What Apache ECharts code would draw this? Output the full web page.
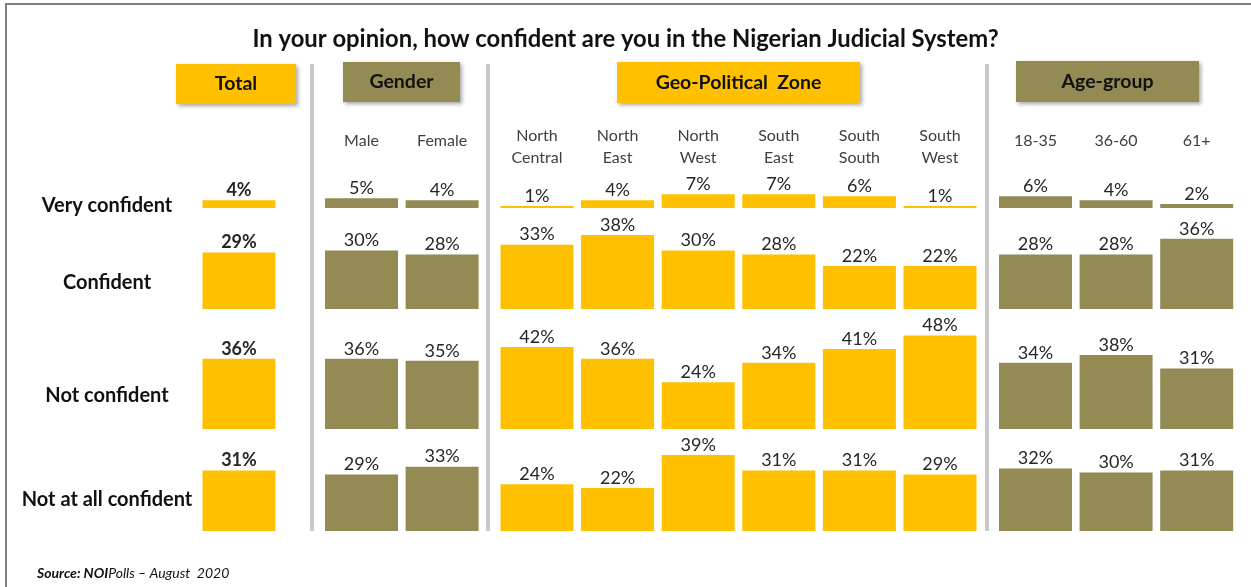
<!DOCTYPE html>
<html>
<head>
<meta charset="utf-8">
<script src="https://cdn.jsdelivr.net/npm/echarts@6/dist/echarts.min.js"></script>
<style>
  html, body { margin: 0; padding: 0; background: #fff; }
  #main { width: 1251px; height: 587px; }
</style>
</head>
<body>
<div id="main"></div>
<script>
// data
var groupNames = ['Total', 'Gender', 'Geo-Political  Zone', 'Age-group'];
var groupColumns = [
    ['Total'],
    ['Male', 'Female'],
    ['North Central', 'North East', 'North West', 'South East', 'South South', 'South West'],
    ['18-35', '36-60', '61+']
];
var responses = ['Very confident', 'Confident', 'Not confident', 'Not at all confident'];
var veryConfident = [4, 5, 4, 1, 4, 7, 7, 6, 1, 6, 4, 2];
var confident = [29, 30, 28, 33, 38, 30, 28, 22, 22, 28, 28, 36];
var notConfident = [36, 36, 35, 42, 36, 24, 34, 41, 48, 34, 38, 31];
var notAtAllConfident = [31, 29, 33, 24, 22, 39, 31, 31, 29, 32, 30, 31];
var rowValues = [veryConfident, confident, notConfident, notAtAllConfident];

// layout
var YELLOW = '#FFC000';
var OLIVE = '#948A54';
var groupColors = [YELLOW, OLIVE, YELLOW, OLIVE];
var groupLeft = [198.7, 321.2, 496.7, 995.2];
var colWidth = 80.6;
var rowBottom = [208, 309, 429, 531];
var rowMax = [10, 40, 50, 40];
var pxPerPct = 1.95;
var FONT = 'Lato';

var dom = document.getElementById('main');
var myChart = echarts.init(dom);

var grids = [], xAxes = [], yAxes = [], series = [];
for (var r = 0; r < responses.length; r++) {
    var start = 0;
    for (var g = 0; g < groupColumns.length; g++) {
        var cols = groupColumns[g];
        var h = rowMax[r] * pxPerPct;
        var idx = grids.length;
        grids.push({
            left: groupLeft[g],
            top: rowBottom[r] - h,
            width: cols.length * colWidth,
            height: h
        });
        xAxes.push({
            gridIndex: idx,
            type: 'category',
            data: cols,
            position: r === 0 ? 'top' : 'bottom',
            axisLine: { show: false },
            axisTick: { show: false },
            axisLabel: {
                show: r === 0 && g > 0,
                interval: 0,
                verticalAlign: 'middle',
                margin: 42,
                lineHeight: 22,
                color: '#404040',
                fontFamily: FONT,
                fontSize: 16,
                // single-line names sit a little higher in the original
                formatter: function (v) {
                    return v.indexOf(' ') > 0 ? v.replace(' ', '\n') : '{s|' + v + '}';
                },
                rich: {
                    s: { fontFamily: FONT, fontSize: 16, color: '#404040', padding: [0, 0, 12, 0] }
                }
            }
        });
        yAxes.push({
            gridIndex: idx,
            type: 'value',
            min: 0,
            max: rowMax[r],
            show: false
        });
        series.push({
            type: 'bar',
            xAxisIndex: idx,
            yAxisIndex: idx,
            barWidth: 73,
            data: rowValues[r].slice(start, start + cols.length),
            itemStyle: { color: groupColors[g] },
            label: {
                show: true,
                position: 'top',
                distance: 1,
                formatter: '{c}%',
                color: '#262626',
                fontFamily: FONT,
                fontSize: 18,
                fontWeight: g === 0 ? 'bold' : 'normal'
            },
            silent: true,
            animation: false
        });
        start += cols.length;
    }
}

// header boxes, separators, row labels
var headerBoxes = [
    [176, 64, 120, 40],
    [343, 62, 117, 40],
    [617, 62, 243, 41],
    [1016, 61, 183, 41]
];
var graphics = [
    { type: 'rect', shape: { x: 6, y: 4, width: 1300, height: 700 }, style: { fill: 'none', stroke: '#555', lineWidth: 1.5 } }
];
headerBoxes.forEach(function (b, i) {
    graphics.push({
        type: 'rect',
        shape: { x: b[0], y: b[1], width: b[2], height: b[3] },
        style: { fill: groupColors[i], shadowBlur: 4, shadowOffsetX: 2, shadowOffsetY: 2, shadowColor: 'rgba(0,0,0,0.35)' }
    });
    graphics.push({
        type: 'text',
        x: b[0] + b[2] / 2,
        y: b[1] + b[3] / 2,
        style: { text: groupNames[i], fill: '#111', font: 'bold 19.5px ' + FONT, textAlign: 'center', textVerticalAlign: 'middle' }
    });
});
[312, 488, 987].forEach(function (x) {
    graphics.push({
        type: 'line',
        shape: { x1: x, y1: 64, x2: x, y2: 531 },
        style: { stroke: '#C8C8C8', lineWidth: 4 }
    });
});
var rowLabelY = [206, 283, 396, 500];
responses.forEach(function (t, i) {
    graphics.push({
        type: 'text',
        x: 107,
        y: rowLabelY[i],
        style: { text: t, fill: '#111', font: 'bold 20px ' + FONT, textAlign: 'center', textVerticalAlign: 'middle' }
    });
});
graphics.push({
    type: 'text',
    x: 37,
    y: 573,
    style: {
        text: '{b|Source: NOI}{n|Polls – August  2020}',
        textVerticalAlign: 'middle',
        rich: {
            b: { fontFamily: FONT, fontSize: 14, fontWeight: 'bold', fontStyle: 'italic', fill: '#111' },
            n: { fontFamily: FONT, fontSize: 14, fontStyle: 'italic', fill: '#111' }
        }
    }
});

option = {
    backgroundColor: '#fff',
    animation: false,
    title: {
        text: 'In your opinion, how confident are you in the Nigerian Judicial System?',
        left: 'center',
        top: 22,
        textStyle: { fontFamily: FONT, fontSize: 23.8, fontWeight: 'bold', color: '#111' }
    },
    grid: grids,
    xAxis: xAxes,
    yAxis: yAxes,
    series: series,
    graphic: graphics
};
if (option && typeof option === "object") {
    myChart.setOption(option, true);
}
</script>
</body>
</html>
